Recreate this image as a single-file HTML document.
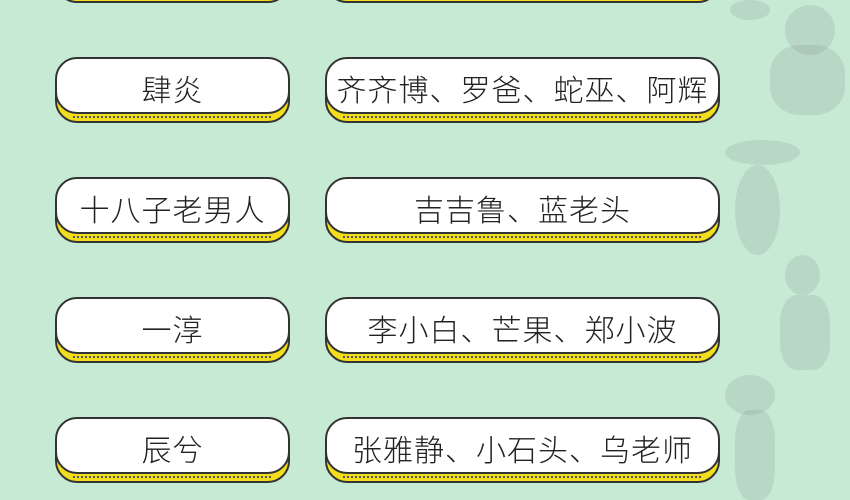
<!DOCTYPE html>
<html><head><meta charset="utf-8"><style>
*{margin:0;padding:0;box-sizing:border-box}
body{width:850px;height:500px;background:#c6ead4;position:relative;overflow:hidden;font-family:"Liberation Sans","Noto Sans CJK SC",sans-serif}
.p{position:absolute;height:66px}
.p .y{position:absolute;left:0;right:0;top:8px;bottom:0;background:#f3de1c;border:2px solid #333;border-radius:22px;}
.p .y::after{content:"";position:absolute;left:16px;right:16px;bottom:3px;height:2px;background:repeating-linear-gradient(90deg,#555 0 2px,transparent 2px 4px)}
.p .w{position:absolute;left:0;right:0;top:0;height:57px;background:#fff;border:2px solid #333;border-radius:22px;display:flex;align-items:center;justify-content:center;font-size:30px;font-weight:300;color:#222;letter-spacing:1px;padding-top:4px}
.l{left:55px;width:235px}.r{left:325px;width:395px}
.f{position:absolute;background:#8a948c;opacity:.22;border-radius:50%}
</style></head><body>
<div class="p l" style="top:-63px"><div class="y"></div><div class="w"></div></div>
<div class="p r" style="top:-63px"><div class="y"></div><div class="w"></div></div>

<div class="p l" style="top:57px"><div class="y"></div><div class="w">肆炎</div></div>
<div class="p r" style="top:57px"><div class="y"></div><div class="w">齐齐博、罗爸、蛇巫、阿辉</div></div>
<div class="p l" style="top:177px"><div class="y"></div><div class="w">十八子老男人</div></div>
<div class="p r" style="top:177px"><div class="y"></div><div class="w">吉吉鲁、蓝老头</div></div>
<div class="p l" style="top:297px"><div class="y"></div><div class="w">一淳</div></div>
<div class="p r" style="top:297px"><div class="y"></div><div class="w">李小白、芒果、郑小波</div></div>
<div class="p l" style="top:417px"><div class="y"></div><div class="w">辰兮</div></div>
<div class="p r" style="top:417px"><div class="y"></div><div class="w">张雅静、小石头、乌老师</div></div>

<div class="f" style="left:785px;top:5px;width:50px;height:50px"></div>
<div class="f" style="left:770px;top:45px;width:75px;height:70px;border-radius:40%"></div>
<div class="f" style="left:730px;top:0;width:40px;height:20px"></div>
<div class="f" style="left:725px;top:140px;width:75px;height:25px"></div>
<div class="f" style="left:735px;top:165px;width:45px;height:90px"></div>
<div class="f" style="left:785px;top:255px;width:35px;height:40px"></div>
<div class="f" style="left:780px;top:295px;width:50px;height:75px;border-radius:35%"></div>
<div class="f" style="left:725px;top:375px;width:50px;height:40px"></div>
<div class="f" style="left:735px;top:410px;width:40px;height:90px;border-radius:35%"></div>
</body></html>
